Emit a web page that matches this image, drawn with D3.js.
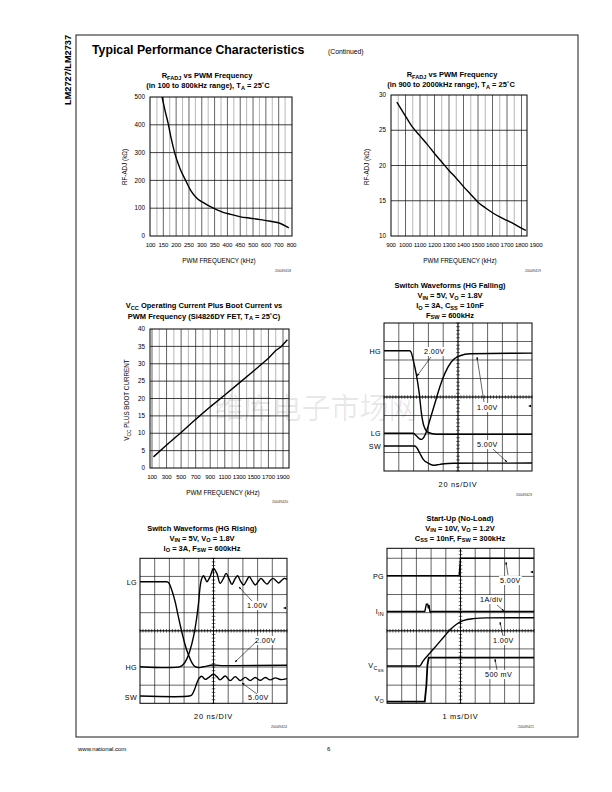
<!DOCTYPE html>
<html><head><meta charset="utf-8">
<script src="https://cdn.jsdelivr.net/npm/d3@7"></script>
<style>body{margin:0;background:#fff}</style>
</head><body>
<script>
// ---------------- DATA ----------------
// Chart 1: RFADJ vs PWM frequency (100-800 kHz)
const c1Ticks = [100,150,200,250,300,350,400,450,500,600,700,800];
const c1Freq = [145,157,169,181,194,215,237,256,282,308,347,386,412,451,490,558,636,714,779];
const c1R    = [500,450,404,350,300,243,200,165,135,119,99,84,78,69,64,59,53,45,29];
const c1YTicks = [0,100,200,300,400,500];
// Chart 2: RFADJ vs PWM frequency (900-2000 kHz)
const c2Ticks = [900,1000,1100,1200,1300,1400,1500,1600,1700,1800,1900];
const c2Freq = [940,1000,1050,1100,1150,1200,1250,1300,1350,1400,1450,1500,1550,1600,1650,1700,1750,1800,1830];
const c2R    = [29.0,27.0,25.4,24.2,23.0,21.7,20.5,19.3,18.2,17.0,15.9,14.8,14.0,13.3,12.7,12.2,11.7,11.1,10.8];
const c2YTicks = [10,15,20,25,30];
// Chart 3: VCC + boot current vs PWM frequency
const c3Ticks = [100,300,500,700,900,1100,1300,1500,1700,1900];
const c3Freq = [120,300,500,700,900,1100,1300,1500,1700,1800,1870,1960];
const c3I    = [3.2,6.6,10.2,14.0,17.6,21.0,24.5,28.0,31.6,33.8,34.8,36.9];
const c3YTicks = [0,5,10,15,20,25,30,35,40];
// Scope 1: HG falling (x,y in divisions)
const s1HG = [[0,6.5],[1.74,6.5],[1.86,6.37],[1.97,6.01],[2.19,5.2],[2.38,4.21],[2.53,3.12],[2.71,2.4],[2.99,2.08],[3.55,1.99],[10,1.99]];
const s1LG = [[0,2.04],[1.97,2.04],[2.19,1.9],[2.38,1.75],[2.53,1.71],[2.69,1.82],[2.87,2.13],[3.1,2.76],[3.44,3.66],[3.78,4.57],[4.12,5.29],[4.57,5.92],[5.14,6.23],[5.81,6.34],[10,6.37]];
const s1SW = [[0,1.35],[2.08,1.35],[2.24,1.23],[2.42,0.96],[2.65,0.63],[2.99,0.42],[3.33,0.31],[3.78,0.36],[4.68,0.42],[10,0.43]];
// Scope 2: HG rising
const s2LG = [[0,6.71],[1.82,6.71],[1.98,6.62],[2.16,6.25],[2.39,5.61],[2.61,4.78],[2.84,3.95],[3.07,3.22],[3.3,2.67],[3.52,2.26],[3.75,2.02],[3.98,1.97],[4.32,2.02],[5.0,2.11],[5.68,2.08],[6.36,2.08],[10,2.1]];
const s2HG = [[0,2.02],[2.73,2.02],[2.95,2.15],[3.18,2.44],[3.41,2.94],[3.64,3.68],[3.82,4.5],[3.98,5.51],[4.09,6.43],[4.2,6.89],[4.32,7.04],[4.43,6.89],[4.55,6.71],[4.77,6.99],[5.0,7.44],[5.23,7.17],[5.45,6.62],[5.68,6.89],[5.86,7.17],[6.09,6.8],[6.25,6.56],[6.48,6.89],[6.64,7.04],[6.86,6.71],[7.05,6.53],[7.27,6.8],[7.43,6.99],[7.66,6.71],[7.84,6.53],[8.07,6.75],[8.23,6.89],[8.45,6.71],[8.64,6.58],[8.86,6.77],[9.05,6.89],[9.27,6.75],[9.43,6.64],[9.66,6.8],[9.82,6.89],[10,6.84]];
const s2SW = [[0,0.4],[3.36,0.4],[3.52,0.46],[3.7,0.74],[3.86,1.1],[4.02,1.38],[4.2,1.49],[4.43,1.32],[4.66,1.42],[5.0,1.6],[5.23,1.47],[5.45,1.29],[5.8,1.51],[6.14,1.25],[6.48,1.47],[6.82,1.25],[7.16,1.43],[7.5,1.25],[7.84,1.42],[8.18,1.27],[8.52,1.42],[8.86,1.29],[9.2,1.4],[9.55,1.31],[10,1.36]];
// Scope 3: start-up
const s3PG = [[0,7.04],[4.91,7.04],[5.0,8.0],[10,8.0]];
const s3IN = [[0,5.06],[2.57,5.06],[2.64,5.33],[2.68,5.46],[2.77,5.46],[2.82,5.24],[2.86,5.42],[2.91,5.09],[2.95,5.02],[3.0,5.06],[10,5.06]];
const s3CSS = [[0,2.06],[2.23,2.06],[2.45,2.33],[2.91,2.76],[3.36,3.18],[3.82,3.62],[4.27,4.04],[4.73,4.36],[5.18,4.56],[5.86,4.67],[6.77,4.71],[10,4.72]];
const s3VO = [[0,0.09],[2.57,0.09],[2.68,1.01],[2.75,2.11],[2.84,2.52],[10,2.52]];

// ---------------- DRAW ----------------
const FONT = "'Liberation Sans', Arial, Helvetica, sans-serif";
const SCOPEFONT = "'Liberation Sans', Arial, sans-serif";
const svg = d3.select("body").append("svg").attr("width",612).attr("height",792)
  .style("font-family", FONT);

const defs = svg.append("defs");
defs.append("marker").attr("id","ah").attr("viewBox","0 0 10 10").attr("refX",9).attr("refY",5)
  .attr("markerWidth",5).attr("markerHeight",5).attr("orient","auto")
  .append("path").attr("d","M0,1.5L10,5L0,8.5Z").attr("fill","#000");

function rich(g, x, y, segs, o) {
  o = o || {};
  const fs = o.size || 7.5;
  const t = g.append("text").attr("x",x).attr("y",y).attr("font-size",fs)
    .attr("text-anchor",o.anchor||"middle").attr("font-weight",o.weight||"normal")
    .attr("font-family",o.family||FONT).attr("fill","#000");
  if (o.ls) t.attr("letter-spacing", o.ls);
  if (o.rotate) t.attr("transform",`rotate(-90,${x},${y})`);
  let shift = 0;
  segs.forEach(s => {
    const str = typeof s === "string" ? s : s[0];
    const kind = typeof s === "string" ? null : s[1];
    const target = kind==="sub" ? fs*0.25 : kind==="sub2" ? fs*0.5 : 0;
    const ts = t.append("tspan").text(str).attr("dy", target - shift);
    if (kind==="sub") ts.attr("font-size", fs*0.75);
    if (kind==="sub2") ts.attr("font-size", fs*0.6);
    shift = target;
  });
  return t;
}

// Page frame
svg.append("rect").attr("x",76).attr("y",35).attr("width",502).attr("height",702)
  .attr("fill","none").attr("stroke","#000").attr("stroke-width",0.9);
svg.append("text").attr("transform","translate(71,35) rotate(-90)").attr("text-anchor","end")
  .attr("font-size",9.2).attr("font-weight","bold").text("LM2727/LM2737");
svg.append("text").attr("x",92).attr("y",54).attr("font-size",12.3).attr("font-weight","bold")
  .text("Typical Performance Characteristics");
svg.append("text").attr("x",328).attr("y",54).attr("font-size",6.8).text("(Continued)");
svg.append("text").attr("x",78).attr("y",751).attr("font-size",6).text("www.national.com");
svg.append("text").attr("x",327).attr("y",751).attr("font-size",6).text("6");

// Watermark
svg.append("text").attr("x",316).attr("y",419).attr("text-anchor","middle")
  .attr("font-family","'Noto Sans CJK SC', sans-serif").attr("font-size",29)
  .attr("fill","#000").attr("fill-opacity",0.09).text("维库电子市场网");

// ---------- XY charts ----------
function xyChart(o) {
  const g = svg.append("g");
  const x = o.x, y = o.y;
  const [L,R] = o.frameX, [B,T] = [y.range()[0], y.range()[1]];
  o.vgrid.forEach((v,i) => {
    const px = x(v);
    if (px <= L+0.5 || px >= R-0.5) return;
    g.append("line").attr("x1",px).attr("x2",px).attr("y1",T).attr("y2",B)
      .attr("stroke", i%2===0 ? "#222" : "#9a9a9a").attr("stroke-width",0.7);
  });
  o.yTicks.forEach(v => {
    const py = y(v);
    if (py >= B-0.5 || py <= T+0.5) return;
    g.append("line").attr("x1",L).attr("x2",R).attr("y1",py).attr("y2",py)
      .attr("stroke","#111").attr("stroke-width",0.8);
  });
  g.append("rect").attr("x",L).attr("y",T).attr("width",R-L).attr("height",B-T)
    .attr("fill","none").attr("stroke","#000").attr("stroke-width",1);
  o.yTicks.forEach(v => g.append("text").attr("x",L-5).attr("y",y(v)+2.2)
    .attr("text-anchor","end").attr("font-size",6.3).text(v));
  o.xTicks.forEach(v => g.append("text").attr("x",x(v)).attr("y",B+11)
    .attr("text-anchor","middle").attr("font-size",6.1).attr("letter-spacing",-0.15).text(v));
  const line = d3.line().x(d=>x(d[0])).y(d=>y(d[1])).curve(o.curve||d3.curveMonotoneX);
  g.append("path").attr("d", line(o.data)).attr("fill","none").attr("stroke","#000").attr("stroke-width",1.4);
  o.titles.forEach(tl => rich(g, tl.x, tl.y, tl.segs, {size:7.5, weight:"bold"}));
  rich(g, o.ytitle.x, o.ytitle.y, o.ytitle.segs, {size:6.3, rotate:true});
  rich(g, o.xtitle.x, o.xtitle.y, ["PWM FREQUENCY (kHz)"], {size:6.3});
  g.append("text").attr("x",o.fig.x).attr("y",o.fig.y).attr("text-anchor","middle")
    .attr("font-size",3.6).attr("fill","#333").text(o.fig.t);
}

// Chart 1 (polylinear category-like axis)
const c1Range = c1Ticks.map((d,i)=>150.5 + i*(291.5-150.5)/(c1Ticks.length-1));
const c1x = d3.scaleLinear().domain(c1Ticks).range(c1Range);
const c1grid = [];
c1Ticks.forEach((d,i)=>{ c1grid.push(d); if(i<c1Ticks.length-1) c1grid.push((d+c1Ticks[i+1])/2); });
xyChart({
  x:c1x, y:d3.scaleLinear().domain([0,500]).range([236,97]), frameX:[150,292],
  vgrid:c1grid, yTicks:c1YTicks, xTicks:c1Ticks, data:c1Freq.map((f,i)=>[f,c1R[i]]),
  titles:[{x:207,y:78,segs:["R",["FADJ","sub"]," vs PWM Frequency"]},
          {x:208,y:88,segs:["(in 100 to 800kHz range), T",["A","sub"]," = 25˚C"]}],
  ytitle:{x:127,y:167,segs:["RF-ADJ (kΩ)"]}, xtitle:{x:219,y:263},
  fig:{x:283,y:272,t:"20049418"}
});

// Chart 2
const c2x = d3.scaleLinear().domain([900,1900]).range([391,536]);
xyChart({
  x:c2x, y:d3.scaleLinear().domain([10,30]).range([236,95]), frameX:[391,527],
  vgrid:d3.range(900,1900,50), yTicks:c2YTicks, xTicks:c2Ticks, data:c2Freq.map((f,i)=>[f,c2R[i]]),
  titles:[{x:452,y:77,segs:["R",["FADJ","sub"]," vs PWM Frequency"]},
          {x:451,y:87,segs:["(in 900 to 2000kHz range), T",["A","sub"]," = 25˚C"]}],
  ytitle:{x:369,y:167,segs:["RF-ADJ (kΩ)"]}, xtitle:{x:460,y:263},
  fig:{x:533,y:272,t:"20049419"}
});

// Chart 3
const c3x = d3.scaleLinear().domain([100,1900]).range([152,283]);
xyChart({
  x:c3x, y:d3.scaleLinear().domain([0,40]).range([468,329]), frameX:[150,289],
  vgrid:d3.range(100,2000,100), yTicks:c3YTicks, xTicks:c3Ticks, data:c3Freq.map((f,i)=>[f,c3I[i]]),
  curve:d3.curveLinear,
  titles:[{x:204,y:308,segs:["V",["CC","sub"]," Operating Current Plus Boot Current vs"]},
          {x:204,y:318.5,segs:["PWM Frequency (Si4826DY FET, T",["A","sub"]," = 25˚C)"]}],
  ytitle:{x:129,y:400,segs:["V",["CC","sub"]," PLUS BOOT CURRENT"]}, xtitle:{x:223,y:495},
  fig:{x:280,y:503,t:"20049420"}
});

// ---------- Scopes ----------
function scope(o) {
  const g = svg.append("g");
  const x = d3.scaleLinear().domain([0,10]).range([o.l,o.r]);
  const y = d3.scaleLinear().domain([0,o.ny]).range([o.b,o.t]);
  for (let i=1;i<10;i++) g.append("line").attr("x1",x(i)).attr("x2",x(i)).attr("y1",o.t).attr("y2",o.b)
    .attr("stroke","#111").attr("stroke-width",0.65);
  for (let j=1;j<o.ny;j++) g.append("line").attr("x1",o.l).attr("x2",o.r).attr("y1",y(j)).attr("y2",y(j))
    .attr("stroke","#111").attr("stroke-width",0.65);
  const cx = x(5), cy = y(o.cy);
  for (let k=0;k<=50;k++){ const px=x(k/5); g.append("line").attr("x1",px).attr("x2",px).attr("y1",cy-1.8).attr("y2",cy+1.8).attr("stroke","#000").attr("stroke-width",0.6); }
  for (let k=0;k<=Math.floor(o.ny*5);k++){ const py=y(k/5); g.append("line").attr("x1",cx-1.8).attr("x2",cx+1.8).attr("y1",py).attr("y2",py).attr("stroke","#000").attr("stroke-width",0.6); }
  g.append("line").attr("x1",o.l).attr("x2",o.r).attr("y1",cy).attr("y2",cy).attr("stroke","#000").attr("stroke-width",0.8);
  g.append("line").attr("x1",cx).attr("x2",cx).attr("y1",o.t).attr("y2",o.b).attr("stroke","#000").attr("stroke-width",0.8);
  g.append("rect").attr("x",o.l).attr("y",o.t).attr("width",o.r-o.l).attr("height",o.b-o.t)
    .attr("fill","none").attr("stroke","#000").attr("stroke-width",1);
  o.notes.forEach(n => {
    const t = rich(g, n.tx, n.ty, [n.t], {size:7.2, anchor:"start", family:SCOPEFONT, ls:0.4});
    const bb = t.node().getBBox();
    g.insert("rect", () => t.node()).attr("x",bb.x-1).attr("y",bb.y).attr("width",bb.width+2).attr("height",bb.height)
      .attr("fill","#fff");
    g.append("line").attr("x1",n.a[0]).attr("y1",n.a[1]).attr("x2",n.a[2]).attr("y2",n.a[3])
      .attr("stroke","#000").attr("stroke-width",0.6).attr("marker-end","url(#ah)");
  });
  const line = d3.line().x(d=>x(d[0])).y(d=>y(d[1]));
  o.traces.forEach(tr => {
    line.curve(tr.curve || d3.curveMonotoneX);
    g.append("path").attr("d",line(tr.data)).attr("fill","none").attr("stroke","#000").attr("stroke-width",tr.w||1.4);
    rich(g, o.l-3, tr.ly, tr.label, {size:7.2, anchor:"end", family:SCOPEFONT, ls:0.3});
  });
  g.append("path").attr("d",`M${o.r-4},${o.mk}l3,-1.3v2.6z`).attr("fill","#000");
  o.titles.forEach(tl => rich(g, o.tcx, tl.y, tl.segs, {size:7.5, weight:"bold"}));
  rich(g, (o.l+o.r)/2, o.b+15.5, [o.div], {size:7.4, family:SCOPEFONT, ls:0.7});
  g.append("text").attr("x",o.r-8).attr("y",o.b+24.5).attr("text-anchor","middle")
    .attr("font-size",3.6).attr("fill","#333").text(o.fig);
}

scope({
  l:384,r:532,t:323,b:471,ny:8,cy:4,tcx:450,mk:406,div:"20 ns/DIV",fig:"20049423",
  titles:[{y:288,segs:["Switch Waveforms (HG Falling)"]},
          {y:298,segs:["V",["IN","sub"]," = 5V, V",["O","sub"]," = 1.8V"]},
          {y:308,segs:["I",["O","sub"]," = 3A, C",["SS","sub"]," = 10nF"]},
          {y:317.5,segs:["F",["SW","sub"]," = 600kHz"]}],
  traces:[{data:s1HG,ly:354,label:["HG"]},{data:s1LG,ly:436,label:["LG"]},{data:s1SW,ly:449,label:["SW"]}],
  notes:[{t:"2.00V",tx:424,ty:354,a:[431,357,417,376]},
         {t:"1.00V",tx:477,ty:410,a:[484,402,477,357]},
         {t:"5.00V",tx:477,ty:447,a:[493,449,507,462]}]
});

scope({
  l:140,r:287,t:558.3,b:703.3,ny:8,cy:4,tcx:202,mk:608,div:"20 ns/DIV",fig:"20049424",
  titles:[{y:530.5,segs:["Switch Waveforms (HG Rising)"]},
          {y:540.5,segs:["V",["IN","sub"]," = 5V, V",["O","sub"]," = 1.8V"]},
          {y:550.5,segs:["I",["O","sub"]," = 3A, F",["SW","sub"]," = 600kHz"]}],
  traces:[{data:s2LG,ly:585,label:["LG"]},{data:s2HG,ly:670,label:["HG"],curve:d3.curveCatmullRom},
          {data:s2SW,ly:700,label:["SW"],curve:d3.curveCatmullRom}],
  notes:[{t:"1.00V",tx:247,ty:608,a:[252,601,239,587]},
         {t:"2.00V",tx:255,ty:643,a:[257,641,235,662]},
         {t:"5.00V",tx:248,ty:700,a:[257,694,242,683]}]
});

scope({
  l:387,r:534,t:548.3,b:703.3,ny:8.55,cy:4,tcx:460,mk:572,div:"1 ms/DIV",fig:"20049421",
  titles:[{y:520.5,segs:["Start-Up (No-Load)"]},
          {y:530.5,segs:["V",["IN","sub"]," = 10V, V",["O","sub"]," = 1.2V"]},
          {y:540.5,segs:["C",["SS","sub"]," = 10nF, F",["SW","sub"]," = 300kHz"]}],
  traces:[{data:s3PG,ly:579,label:["PG"],curve:d3.curveLinear},
          {data:s3IN,ly:614,label:["I",["IN","sub"]],curve:d3.curveLinear},
          {data:s3CSS,ly:668,label:["V",["C","sub"],["SS","sub2"]]},
          {data:s3VO,ly:701,label:["V",["O","sub"]],curve:d3.curveLinear,w:1.8}],
  notes:[{t:"5.00V",tx:500,ty:583,a:[508,575,506,562]},
         {t:"1A/div",tx:480,ty:602,a:[497,605,504,611]},
         {t:"1.00V",tx:493,ty:643,a:[503,636,500,622]},
         {t:"500 mV",tx:485,ty:677,a:[497,670,495,659]}]
});
</script>
</body></html>
